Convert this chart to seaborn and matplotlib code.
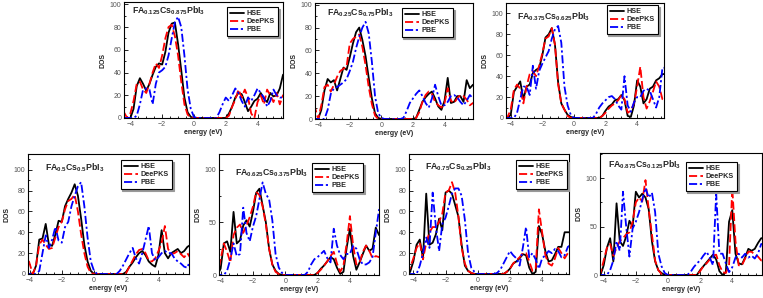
import numpy as np
import pandas as pd
import matplotlib
matplotlib.use("Agg")
import matplotlib.pyplot as plt
import seaborn as sns
from matplotlib.ticker import MultipleLocator
from matplotlib.lines import Line2D

# ---------------- data ----------------
energy = [-4.4, -4.2, -4.0, -3.8, -3.6, -3.4, -3.2, -3.0, -2.8, -2.6, -2.4, -2.2,
          -2.0, -1.8, -1.6, -1.4, -1.2, -1.0, -0.8, -0.6, -0.4, -0.2,
          0.0, 0.2, 0.4, 0.6, 0.8, 1.0, 1.2, 1.4, 1.6, 1.8,
          2.0, 2.2, 2.4, 2.6, 2.8, 3.0, 3.2, 3.4, 3.6, 3.8, 4.0, 4.2,
          4.4, 4.6, 4.8, 5.0, 5.2, 5.4, 5.6, 5.8, 6.0]

methods = ["HSE", "DeePKS", "PBE"]

titles = [r"$\mathbf{FA_{0.125}Cs_{0.875}PbI_{3}}$",
          r"$\mathbf{FA_{0.25}Cs_{0.75}PbI_{3}}$",
          r"$\mathbf{FA_{0.375}Cs_{0.625}PbI_{3}}$",
          r"$\mathbf{FA_{0.5}Cs_{0.5}PbI_{3}}$",
          r"$\mathbf{FA_{0.625}Cs_{0.375}PbI_{3}}$",
          r"$\mathbf{FA_{0.75}Cs_{0.25}PbI_{3}}$",
          r"$\mathbf{FA_{0.875}Cs_{0.125}PbI_{3}}$"]

hse_1 = [0, 0, 0, 8, 28, 35, 30, 24, 30, 38, 45, 48, 47, 58, 75, 83, 84, 65, 42, 18, 5, 1,
         0, 0, 0, 0, 0, 0, 0, 0, 0, 0,
         0, 4, 10, 18, 22, 21, 14, 6, 10, 15, 17, 22, 17, 14, 22, 19, 20, 26, 38, 40, 40]
dee_1 = [5, 0, 4, 15, 30, 32, 25, 22, 30, 40, 48, 44, 55, 70, 80, 82, 72, 55, 32, 12, 3, 0,
         0, 0, 0, 0, 0, 0, 0, 0, 0, 0,
         0, 2, 10, 16, 25, 18, 25, 18, 4, 0, 14, 20, 12, 25, 20, 14, 22, 12, 20, 20, 20]
pbe_1 = [0, 0, 0, 0, 2, 12, 25, 26, 25, 12, 30, 40, 42, 45, 55, 70, 84, 89, 80, 55, 25, 8,
         1, 0, 0, 0, 0, 0, 0, 0, 5, 12,
         18, 15, 20, 26, 22, 15, 10, 18, 15, 20, 26, 22, 18, 10, 15, 25, 20, 18, 18, 18, 18]

hse_2 = [0, 0, 0, 8, 25, 35, 32, 34, 25, 35, 45, 43, 54, 66, 76, 80, 69, 55, 36, 18, 5, 1,
         0, 0, 0, 0, 0, 0, 0, 0, 0, 0,
         0, 1, 8, 15, 19, 22, 24, 18, 11, 8, 16, 36, 14, 15, 20, 20, 15, 34, 27, 30, 30]
dee_2 = [10, 10, 0, 12, 28, 30, 24, 30, 37, 42, 44, 46, 66, 70, 72, 74, 63, 47, 28, 13, 3, 0,
         0, 0, 0, 0, 0, 0, 0, 0, 0, 0,
         0, 1, 6, 15, 21, 24, 22, 15, 12, 10, 14, 27, 16, 14, 18, 21, 20, 17, 12, 14, 14]
pbe_2 = [0, 0, 0, 0, 0, 8, 22, 27, 28, 30, 32, 35, 42, 50, 62, 72, 80, 85, 75, 50, 20, 5,
         1, 0, 0, 0, 0, 0, 0, 1, 7, 14,
         18, 22, 25, 20, 14, 10, 18, 30, 20, 12, 12, 15, 20, 21, 19, 15, 12, 16, 21, 18, 18]

hse_3 = [0, 0, 3, 25, 30, 35, 18, 30, 32, 43, 46, 48, 60, 77, 80, 86, 70, 34, 14, 8, 3, 1,
         0, 0, 0, 0, 0, 0, 0, 0, 0, 2,
         7, 11, 13, 17, 18, 22, 17, 2, 1, 12, 36, 30, 14, 18, 28, 30, 36, 38, 42, 42, 42]
dee_3 = [0, 1, 8, 27, 32, 28, 14, 30, 42, 45, 40, 50, 62, 76, 78, 86, 70, 32, 14, 8, 2, 0,
         0, 0, 0, 0, 0, 0, 0, 0, 0, 2,
         5, 9, 12, 14, 17, 22, 18, 5, 7, 14, 30, 49, 20, 9, 16, 25, 35, 30, 18, 18, 18]
pbe_3 = [0, 0, 0, 0, 5, 18, 30, 30, 22, 50, 28, 45, 52, 58, 64, 76, 85, 88, 72, 30, 12, 3,
         0, 0, 0, 0, 0, 0, 0, 4, 10, 14,
         17, 20, 21, 18, 12, 8, 40, 12, 6, 15, 20, 20, 26, 28, 26, 18, 10, 20, 48, 48, 48]

hse_4 = [0, 0, 0, 0, 8, 33, 34, 48, 28, 27, 38, 51, 50, 65, 72, 78, 86, 75, 53, 28, 12, 3,
         0, 0, 0, 0, 0, 0, 0, 0, 0, 0,
         2, 7, 11, 16, 20, 22, 18, 12, 9, 7, 18, 42, 20, 15, 20, 22, 24, 20, 22, 26, 28]
dee_4 = [20, 20, 10, 0, 8, 28, 33, 28, 24, 25, 35, 45, 50, 62, 70, 72, 76, 60, 38, 20, 7, 1,
         0, 0, 0, 0, 0, 0, 0, 0, 0, 0,
         1, 7, 13, 19, 23, 24, 20, 13, 12, 15, 22, 30, 46, 24, 19, 20, 22, 19, 16, 20, 15]
pbe_4 = [0, 0, 0, 0, 0, 3, 20, 37, 25, 33, 45, 32, 30, 45, 50, 65, 75, 84, 88, 65, 35, 12,
         3, 0, 0, 0, 0, 0, 0, 0, 3, 8,
         14, 20, 25, 15, 10, 20, 33, 46, 20, 13, 16, 20, 22, 20, 20, 15, 12, 10, 7, 6, 15]

hse_5 = [0, 0, 6, 30, 32, 22, 60, 30, 33, 47, 52, 46, 60, 78, 82, 66, 50, 25, 10, 4, 1, 0,
         0, 0, 0, 0, 0, 0, 0, 0, 0, 0,
         2, 6, 9, 13, 17, 15, 7, 1, 3, 26, 44, 18, 5, 12, 20, 28, 23, 25, 45, 38, 38]
dee_5 = [0, 0, 15, 30, 22, 12, 38, 45, 48, 40, 47, 55, 65, 79, 76, 65, 48, 25, 10, 3, 1, 0,
         0, 0, 0, 0, 0, 0, 0, 0, 0, 0,
         2, 5, 9, 13, 18, 22, 11, 3, 9, 30, 56, 28, 10, 12, 22, 28, 23, 16, 18, 17, 17]
pbe_5 = [0, 0, 0, 0, 4, 15, 30, 18, 20, 64, 40, 32, 46, 56, 72, 88, 77, 72, 52, 20, 7, 2,
         0, 0, 0, 0, 0, 0, 0, 3, 10, 15,
         17, 20, 23, 16, 12, 44, 28, 19, 15, 20, 20, 28, 25, 15, 10, 10, 12, 17, 40, 62, 62]

hse_6 = [0, 2, 12, 28, 33, 15, 77, 28, 30, 38, 53, 42, 78, 80, 77, 66, 55, 28, 8, 3, 1, 0,
         0, 0, 0, 0, 0, 0, 0, 0, 0, 2,
         5, 10, 12, 15, 19, 18, 6, 0, 2, 46, 38, 22, 12, 13, 19, 26, 26, 40, 40, 40, 40]
dee_6 = [0, 6, 15, 25, 30, 14, 30, 40, 45, 45, 50, 58, 78, 80, 88, 78, 55, 25, 10, 3, 1, 0,
         0, 0, 0, 0, 0, 0, 0, 0, 0, 2,
         5, 10, 13, 16, 20, 20, 12, 3, 5, 62, 40, 18, 10, 8, 15, 25, 20, 15, 20, 20, 20]
pbe_6 = [0, 0, 0, 0, 8, 20, 35, 25, 78, 45, 22, 48, 54, 65, 77, 82, 82, 75, 52, 20, 6, 2,
         0, 0, 0, 0, 0, 0, 1, 4, 10, 16,
         22, 18, 15, 8, 25, 45, 16, 20, 14, 5, 15, 18, 22, 20, 24, 22, 16, 18, 26, 28, 28]

hse_7 = [0, 0, 10, 28, 38, 14, 74, 35, 30, 40, 56, 50, 86, 80, 84, 80, 68, 35, 14, 5, 2, 0,
         0, 0, 0, 0, 0, 0, 0, 0, 0, 0,
         5, 9, 13, 17, 21, 16, 4, 0, 3, 55, 67, 22, 12, 11, 18, 27, 25, 27, 33, 38, 38]
dee_7 = [0, 2, 15, 28, 32, 20, 28, 35, 38, 42, 44, 55, 75, 80, 76, 98, 68, 42, 15, 5, 1, 0,
         0, 0, 0, 0, 0, 0, 0, 0, 0, 0,
         4, 9, 12, 16, 20, 21, 10, 3, 2, 10, 90, 35, 10, 10, 17, 24, 24, 21, 19, 15, 15]
pbe_7 = [0, 0, 0, 0, 5, 15, 35, 25, 86, 50, 19, 48, 55, 65, 78, 90, 80, 85, 65, 22, 9, 2,
         0, 0, 0, 0, 0, 0, 0, 3, 8, 12,
         15, 20, 24, 18, 10, 84, 22, 22, 12, 3, 8, 18, 22, 18, 22, 18, 20, 17, 22, 32, 32]

series = [(hse_1, dee_1, pbe_1), (hse_2, dee_2, pbe_2), (hse_3, dee_3, pbe_3),
          (hse_4, dee_4, pbe_4), (hse_5, dee_5, pbe_5), (hse_6, dee_6, pbe_6),
          (hse_7, dee_7, pbe_7)]

# ---------------- style / layout ----------------
sns.set_theme(style="ticks")
plt.rcParams["font.family"] = ["Liberation Sans", "DejaVu Sans"]
plt.rcParams["mathtext.fontset"] = "custom"
plt.rcParams["mathtext.rm"] = "Liberation Sans"
plt.rcParams["mathtext.bf"] = "Liberation Sans:bold"
plt.rcParams["mathtext.it"] = "Liberation Sans:italic"

palette = {"HSE": "black", "DeePKS": "#ff0000", "PBE": "#0000ff"}
dashes = {"HSE": "", "DeePKS": (4.5, 1.8), "PBE": (4.5, 1.5, 1.2, 1.5)}
LW = 1.3

# pixel boxes (left, top, right, bottom) in a 763x298 canvas
W, H = 763, 298
boxes = [(124, 2, 283, 118), (315, 3, 473, 119), (506, 3, 664, 118),
         (28, 154, 189, 274), (219, 154, 379, 275), (409, 154, 569, 274),
         (600, 153, 762, 275)]
xlims = [(-4.4, 5.6), (-4.2, 5.8), (-4.3, 5.7), (-4.1, 5.9), (-4.1, 5.8),
         (-4.27, 5.67), (-4.23, 5.85)]
ylims = [(0, 102), (0, 101.5), (0, 110), (0, 115), (0, 115), (0, 115), (0, 126)]
ymaj = [20, 20, 20, 20, 50, 20, 50]
title_pos = [(0.05, 0.925), (0.076, 0.912), (0.07, 0.878), (0.106, 0.883),
             (0.10, 0.843), (0.10, 0.89), (0.05, 0.90)]
leg_anchor = [(0.968, 0.957), (0.873, 0.957), (0.962, 0.983), (0.894, 0.95),
              (0.90, 0.926), (0.988, 0.95), (0.846, 0.926)]

fig = plt.figure(figsize=(W / 100, H / 100), dpi=100)
tick_col = "#555555"

for i, (hse, dee, pbe) in enumerate(series):
    l, t, r, b = boxes[i]
    ax = fig.add_axes([l / W, 1 - b / H, (r - l) / W, (b - t) / H])
    df = pd.DataFrame({
        "energy": energy * 3,
        "DOS": list(hse) + list(dee) + list(pbe),
        "method": ["HSE"] * len(energy) + ["DeePKS"] * len(energy) + ["PBE"] * len(energy),
    })
    sns.lineplot(data=df, x="energy", y="DOS", hue="method", style="method",
                 hue_order=methods, style_order=methods, palette=palette,
                 dashes=dashes, linewidth=LW, estimator=None, legend=False, ax=ax)
    ax.set_xlim(*xlims[i])
    ax.set_ylim(*ylims[i])
    ax.xaxis.set_major_locator(MultipleLocator(2))
    ax.xaxis.set_minor_locator(MultipleLocator(0.5))
    ax.yaxis.set_major_locator(MultipleLocator(ymaj[i]))
    ax.yaxis.set_minor_locator(MultipleLocator(ymaj[i] / 2))
    ax.tick_params(which="both", direction="in", labelsize=5, colors="black",
                   labelcolor=tick_col, pad=2, width=0.6)
    ax.tick_params(which="major", length=3)
    ax.tick_params(which="minor", length=1.6)
    for s in ax.spines.values():
        s.set_linewidth(0.8)
        s.set_color("black")
    ax.set_xlabel("energy (eV)", fontsize=5, fontweight="bold", labelpad=1)
    ax.set_ylabel("DOS", fontsize=5, fontweight="bold", labelpad=2)
    ax.text(title_pos[i][0], title_pos[i][1], titles[i], transform=ax.transAxes,
            fontsize=6.3, ha="left", va="center")
    handles = [Line2D([], [], color="black", linewidth=LW, linestyle="-"),
               Line2D([], [], color=palette["DeePKS"], linewidth=LW,
                      linestyle=(0, dashes["DeePKS"])),
               Line2D([], [], color=palette["PBE"], linewidth=LW,
                      linestyle=(0, dashes["PBE"]))]
    leg = ax.legend(handles, methods, loc="upper right", bbox_to_anchor=leg_anchor[i],
                    bbox_transform=ax.transAxes, frameon=True, fancybox=False,
                    edgecolor="black", framealpha=1, prop={"size": 5.2, "weight": "bold"},
                    handlelength=1.9, handletextpad=0.4, borderpad=0.45,
                    labelspacing=0.12, borderaxespad=0,
                    shadow={"color": "0.6", "alpha": 1, "ox": 1.2, "oy": -1.2})
    leg.get_frame().set_linewidth(0.8)

fig.savefig("out.png", dpi=100)
